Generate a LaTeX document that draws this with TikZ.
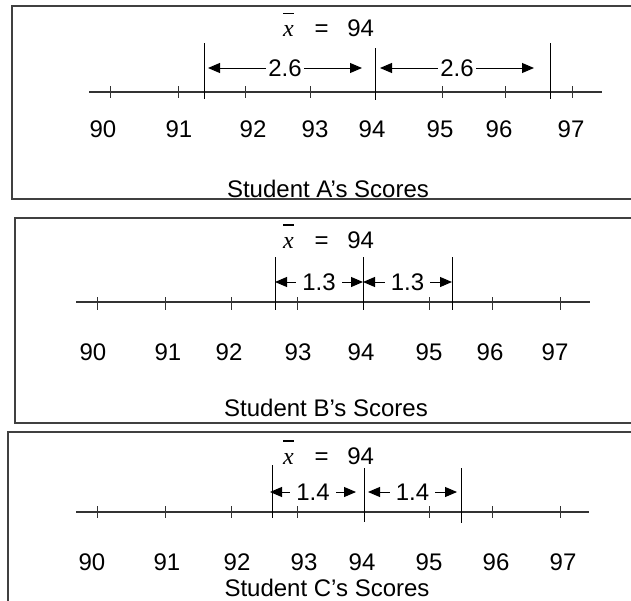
\documentclass[tikz,border=0pt]{standalone}
\usepackage{fontspec}
\setmainfont{Liberation Sans}
\newfontfamily\xfont{Liberation Serif}
\usepackage{tikz}
\usetikzlibrary{arrows.meta}
\newcommand{\xbar}{{\xfont\itshape\rlap{\raisebox{11.2pt}{\rule{5.6pt}{0.7pt}}}x}}

\begin{document}
\begin{tikzpicture}[x=0.5pt, y=-0.5pt,
  panel/.style={draw=black!75, line width=0.8pt},
  axis/.style={draw=black!80, line width=0.6pt},
  tickmark/.style={draw=black!80, line width=0.5pt},
  bar/.style={draw=black, line width=0.5pt},
  span/.style={{Triangle[length=6pt,width=5pt]}-{Triangle[length=6pt,width=5pt]}, line width=0.5pt},
  num/.style={anchor=base, inner sep=0pt, font=\fontsize{12}{14}\selectfont},
  gap/.style={fill=white, inner sep=1.2pt, font=\fontsize{12}{14}\selectfont}
]
  \useasboundingbox (0,0) rectangle (631,600);

  % Student A
  \draw[panel] (650,6) -- (12,6) -- (12,199) -- (650,199);
  \node[num] (amean) at (328.5,36.5) {\xbar\hspace{10.5pt}=\hspace{9.3pt}94};
  \draw[axis] (89,92) -- (602,92);
  \foreach \p/\v/\q in {110/90/103, 178/91/179, 245/92/253, 310/93/315, 375/94/372, 442/95/440, 505/96/499, 572/97/571}{
    \draw[tickmark] (\p,86) -- (\p,98);
    \node[num] (a\v) at (\q,137.5) {\v};
  }
  \coordinate (aL) at (208,68);
  \coordinate (aM1) at (362,68);
  \coordinate (aM2) at (380,68);
  \coordinate (aR) at (534,68);
  \draw[bar] (204,43) -- (204,99);
  \draw[bar] (375,48) -- (375,100);
  \draw[bar] (550,43) -- (550,99);
  \draw[span] (aL) -- node[gap] (ad1) {2.6} (aM1);
  \draw[span] (aM2) -- node[gap] (ad2) {2.6} (aR);
  \node[num] (atitle) at (328,197) {Student A’s Scores};

  % Student B
  \draw[panel] (650,218) -- (15,218) -- (15,423) -- (650,423);
  \node[num] (bmean) at (328.5,248) {\xbar\hspace{10.5pt}=\hspace{9.3pt}94};
  \draw[axis] (76,302) -- (590,302);
  \foreach \p/\v/\q in {97/90/93, 165/91/168, 231/92/229, 297/93/298, 363/94/361, 429/95/429, 492/96/490, 560/97/555}{
    \draw[tickmark] (\p,297) -- (\p,310);
    \node[num] (b\v) at (\q,360.5) {\v};
  }
  \coordinate (bL) at (275,282);
  \coordinate (bM) at (363,282);
  \coordinate (bR) at (452,282);
  \draw[bar] (275,257) -- (275,310);
  \draw[bar] (363,257) -- (363,310);
  \draw[bar] (452,257) -- (452,310);
  \draw[span] (bL) -- node[gap, inner sep=3pt] (bd1) {1.3} (bM);
  \draw[span] (bM) -- node[gap, inner sep=3pt] (bd2) {1.3} (bR);
  \node[num] (btitle) at (326,416.5) {Student B’s Scores};

  % Student C
  \draw[panel] (650,432) -- (8,432) -- (8,620);
  \node[num] (cmean) at (328.5,464) {\xbar\hspace{10.5pt}=\hspace{9.3pt}94};
  \draw[axis] (76,512) -- (589,512);
  \foreach \p/\v/\q in {97/90/92, 165/91/167, 231/92/237, 297/93/304, 364/94/362, 429/95/429, 492/96/496, 560/97/563}{
    \draw[tickmark] (\p,506) -- (\p,518);
    \node[num] (c\v) at (\q,570) {\v};
  }
  \coordinate (cL) at (270,492);
  \coordinate (cM1) at (356,492);
  \coordinate (cM2) at (368,492);
  \coordinate (cR) at (457,492);
  \draw[bar] (272,465) -- (272,518);
  \draw[bar] (364,468) -- (364,522);
  \draw[bar] (461,468) -- (461,523);
  \draw[span] (cL) -- node[gap, inner sep=3pt] (cd1) {1.4} (cM1);
  \draw[span] (cM2) -- node[gap, inner sep=3pt] (cd2) {1.4} (cR);
  \node[num] (ctitle) at (327,596.5) {Student C’s Scores};
\end{tikzpicture}
\end{document}
